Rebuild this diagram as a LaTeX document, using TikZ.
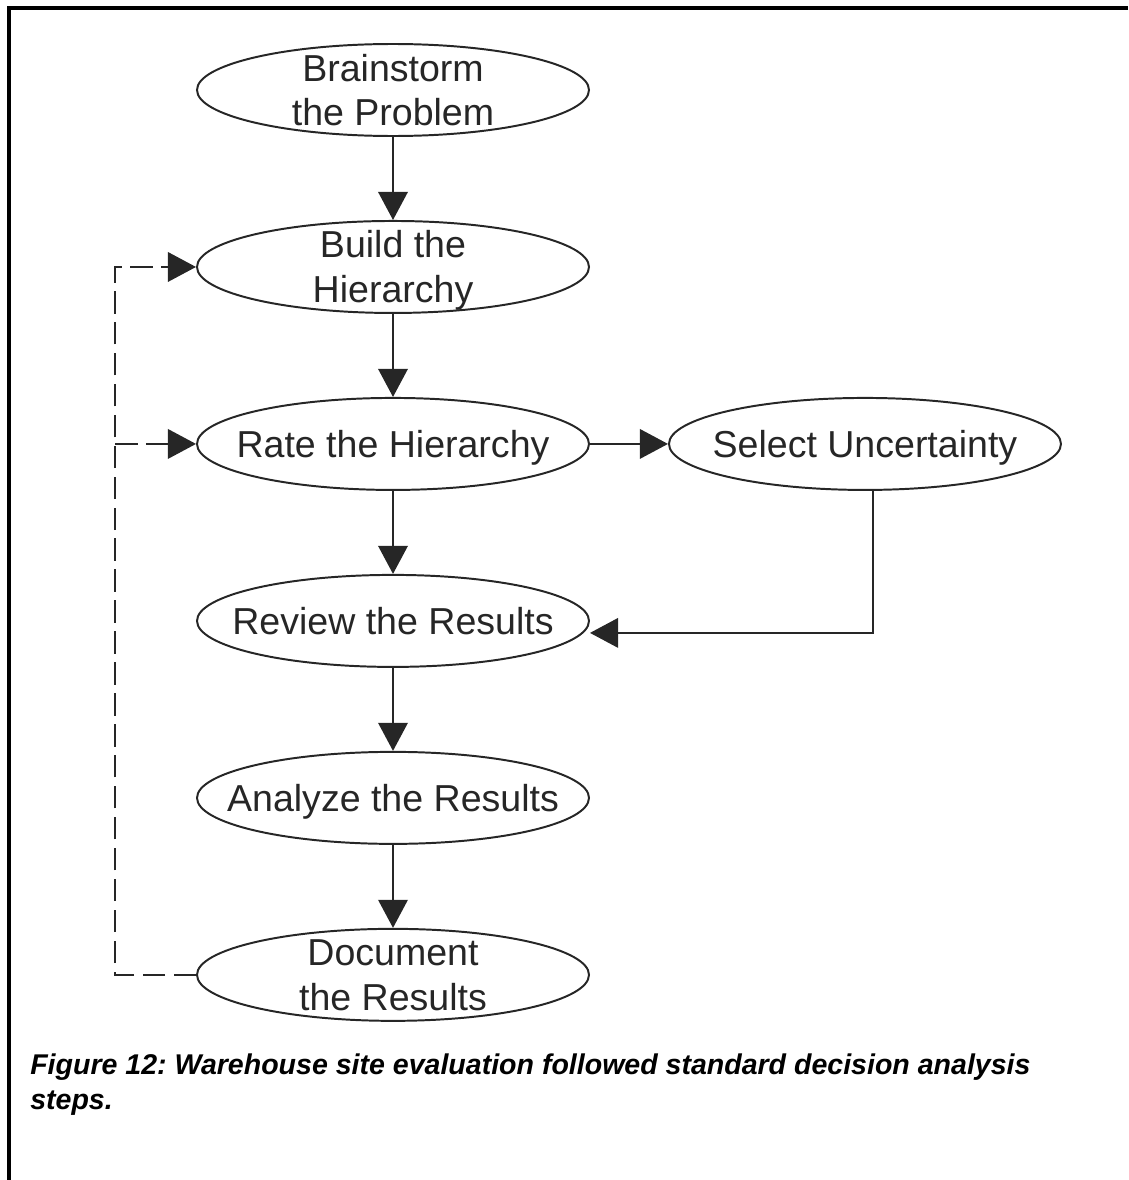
\documentclass[tikz,border=0pt]{standalone}
\usepackage{fontspec}
\setmainfont{Liberation Sans}
\usepackage{tikz}
\usetikzlibrary{shapes.geometric, arrows.meta, positioning}
\frenchspacing

\newcommand{\steptext}[1]{\smash{\makebox[0pt]{\raisebox{-.12em}{\vbox to 0pt{\vss\hbox{\begin{tabular}{@{}c@{}}#1\end{tabular}}\vss}}}}}

\begin{document}
\begin{tikzpicture}[
    node distance=2.075cm,
    stepnode/.style={ellipse, draw=black!85, line width=1.4pt, minimum width=9.8cm, minimum height=2.3cm, inner sep=0pt, text=black!85, font=\fontsize{26.7pt}{32pt}\selectfont},
    arrow/.style={-{Triangle[length=20pt, width=21pt]}, line width=1.4pt, black!85},
    feedback/.style={arrow, dash pattern=on 16pt off 6pt}
]
\useasboundingbox (0,0) rectangle (28.2,-29.5);
\draw[line width=2.4pt] (0.225,-29.5) -- (0.225,-0.2) -- (28.2,-0.2);

\node[stepnode] (brain) at (9.825,-2.25) {\steptext{Brainstorm\\the Problem}};
\node[stepnode, below=of brain] (build) {\steptext{Build the\\Hierarchy}};
\node[stepnode, below=of build] (rate) {\steptext{Rate the Hierarchy}};
\node[stepnode, right=1.95cm of rate] (uncert) {\steptext{Select Uncertainty}};
\node[stepnode, below=of rate] (review) {\steptext{Review the Results}};
\node[stepnode, below=of review] (analyze) {\steptext{Analyze the Results}};
\node[stepnode, below=of analyze] (document) {\steptext{Document\\the Results}};
\coordinate[left=2.025cm of document.west] (loop);

\draw[arrow] (brain) -- (build);
\draw[arrow] (build) -- (rate);
\draw[arrow] (rate) -- (uncert);
\draw[arrow] (rate) -- (review);
\draw[arrow] ([xshift=0.2cm]uncert.south) |- ([yshift=-0.3cm]review.east);
\draw[arrow] (review) -- (analyze);
\draw[arrow] (analyze) -- (document);
\draw[feedback] (document.west) -- (loop) |- (build.west);
\draw[feedback] (loop |- rate.west) -- (rate.west);

\node[anchor=north west, inner sep=0pt, align=left, font=\fontsize{20.3pt}{24.9pt}\selectfont\bfseries\itshape] (caption) at (0.75,-26.35)
    {Figure 12: Warehouse site evaluation followed standard decision analysis\\steps.};
\end{tikzpicture}
\end{document}
